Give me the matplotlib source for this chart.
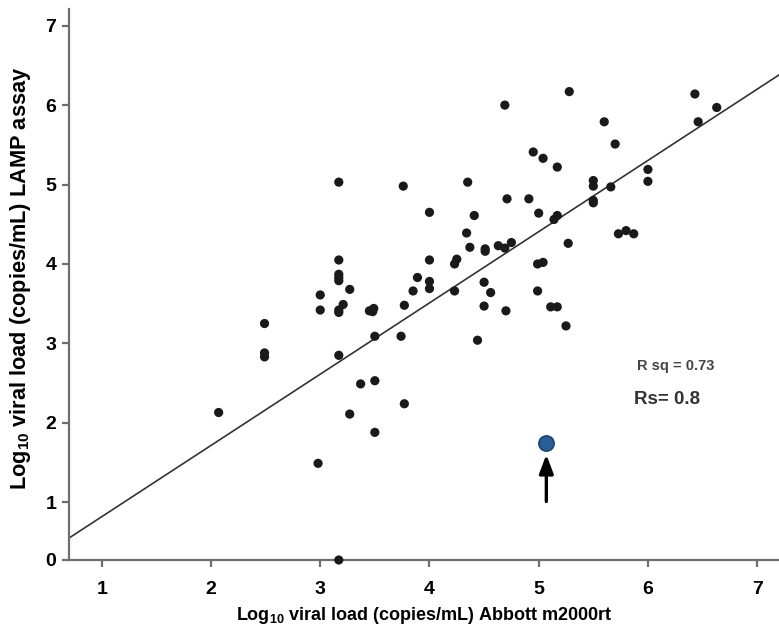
import numpy as np
import matplotlib
matplotlib.use("Agg")
import matplotlib.pyplot as plt

# log10 viral load, Abbott m2000rt (x) vs LAMP assay (y)
abbott = [2.07, 2.49, 2.49, 2.49, 2.98, 3.00, 3.00, 3.17, 3.17, 3.17,
          3.17, 3.17, 3.17, 3.21, 3.17, 3.17, 3.17, 3.27, 3.27, 3.37,
          3.45, 3.49, 3.48, 3.50, 3.50, 3.50, 3.76, 3.74, 3.77, 3.77,
          3.85, 3.89, 4.00, 4.00, 4.00, 4.00, 4.23, 4.25, 4.23, 4.34,
          4.35, 4.37, 4.41, 4.44, 4.50, 4.50, 4.51, 4.51, 4.56, 4.63,
          4.69, 4.75, 4.69, 4.70, 4.71, 4.91, 4.95, 5.00, 4.99, 4.99,
          5.04, 5.04, 5.11, 5.17, 5.14, 5.17, 5.17, 5.25, 5.27, 5.28,
          5.50, 5.50, 5.50, 5.50, 5.60, 5.66, 5.70, 5.73, 5.80, 5.87,
          6.00, 6.00, 6.43, 6.46, 6.63]
lamp = [2.13, 3.25, 2.88, 2.83, 1.49, 3.61, 3.42, 5.03, 4.05, 3.87,
        3.83, 3.79, 3.42, 3.49, 3.39, 2.85, 0.00, 3.68, 2.11, 2.49,
        3.41, 3.44, 3.40, 3.09, 2.53, 1.88, 4.98, 3.09, 3.48, 2.24,
        3.66, 3.83, 4.65, 4.05, 3.78, 3.69, 3.66, 4.06, 4.00, 4.39,
        5.03, 4.21, 4.61, 3.04, 3.77, 3.47, 4.19, 4.16, 3.64, 4.23,
        4.20, 4.27, 6.00, 3.41, 4.82, 4.82, 5.41, 4.64, 3.66, 4.00,
        4.02, 5.33, 3.46, 3.46, 4.56, 4.61, 5.22, 3.22, 4.26, 6.17,
        5.05, 4.98, 4.80, 4.77, 5.79, 4.97, 5.51, 4.38, 4.42, 4.38,
        5.19, 5.04, 6.14, 5.79, 5.97]

# highlighted sample
outlier_x = [5.07]
outlier_y = [1.74]

# regression line end points
fit_x = [0.70, 7.2]
fit_y = [0.38, 6.38]

r_sq = "R sq = 0.73"
r_s = "Rs= 0.8"

FONT = 'Liberation Sans'
plt.rcParams['mathtext.fontset'] = 'custom'
plt.rcParams['mathtext.rm'] = FONT + ':bold'
plt.rcParams['mathtext.it'] = FONT + ':bold'
plt.rcParams['mathtext.bf'] = FONT + ':bold'

# y axis is squeezed between 0 and 1 in the original
k = 0.727
def fwd(y):
    y = np.asarray(y, dtype=float)
    return np.where(y < 1, 1 - (1 - y) * k, y)
def inv(v):
    v = np.asarray(v, dtype=float)
    return np.where(v < 1, 1 - (1 - v) / k, v)

fig = plt.figure(figsize=(7.79, 6.35), dpi=100)
ax = fig.add_axes([69/779, 75/635, 710/779, 551/635])
ax.set_yscale('function', functions=(fwd, inv))

ax.plot(fit_x, fit_y, color='#333333', lw=1.2, zorder=2)
ax.scatter(abbott, lamp, s=44, color='#1a1a1a', edgecolors='none', zorder=3, clip_on=False)
ax.scatter(outlier_x, outlier_y, s=120, color='#2a5d96', edgecolors='#1c4674', lw=1.2, zorder=4)
ax.annotate('', xy=(outlier_x[0], 1.60), xytext=(outlier_x[0], 1.01),
            arrowprops=dict(arrowstyle='-|>,head_length=0.45,head_width=0.17',
                            mutation_scale=25, lw=2.4, color='black',
                            shrinkA=0, shrinkB=0))

ax.text(5.90, 2.71, r_sq, fontsize=10.5, fontweight='bold', color='#444444',
        family=FONT, ha='left', va='center')
ax.text(5.87, 2.29, r_s, fontsize=13.5, fontweight='bold', color='#333333',
        family=FONT, ha='left', va='center')

ax.set_xlim(0.70, 7.2)
ax.set_ylim(0, 7.21)
ax.set_xticks(range(1, 8))
ax.set_yticks(range(0, 8))

for s in ['top', 'right']:
    ax.spines[s].set_visible(False)
for s in ['left', 'bottom']:
    ax.spines[s].set_color('#6e6e6e')
    ax.spines[s].set_linewidth(1.6)

ax.tick_params(axis='both', colors='#6e6e6e', width=1.6, length=5, labelcolor='black')
ax.tick_params(axis='x', pad=10)
ax.tick_params(axis='y', pad=4)
for lab in ax.get_xticklabels() + ax.get_yticklabels():
    lab.set_family(FONT)
    lab.set_fontweight('bold')
    lab.set_fontsize(14)

ax.set_xlabel(r'Log$_{10}$ viral load (copies/mL) Abbott m2000rt',
              family=FONT, fontweight='bold', fontsize=13, labelpad=5)
ax.set_ylabel(r'Log$_{10}$ viral load (copies/mL) LAMP assay',
              family=FONT, fontweight='bold', fontsize=15.7)
ax.yaxis.set_label_coords((33 - 69) / 710, (560 - 278) / 551)

fig.savefig('out.png', dpi=100)
